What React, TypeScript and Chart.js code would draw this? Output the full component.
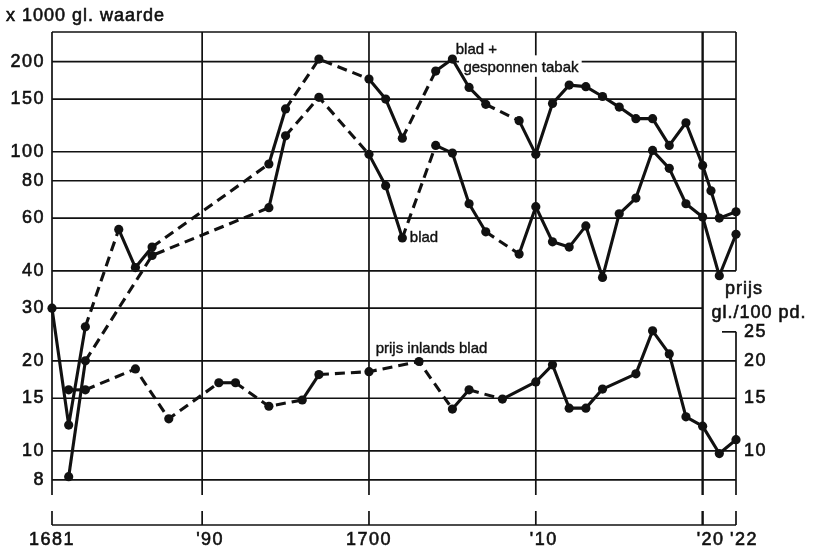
import React, { useEffect, useRef } from "react";
import { Chart, registerables } from "chart.js";

Chart.register(...registerables);

// ---- data ----
const topYears = [1681, 1682, 1683, 1685, 1686, 1687, 1694, 1695, 1697, 1700, 1701, 1702, 1704, 1705, 1706, 1707, 1709, 1710, 1711, 1712, 1713, 1714, 1715, 1716, 1717, 1718, 1719, 1720, 1720.5, 1721, 1722];
const topValues = [30, 12.2, 26, 55, 41, 48, 91, 139, 204, 175, 150, 111, 186, 204, 164, 144, 127, 98, 145, 167, 165, 153, 141, 129, 129, 105, 125, 90, 74, 60, 63];
const topDashedFrom = [1683, 1687, 1695, 1697, 1702, 1707];

const bladYears = [1682, 1683, 1687, 1694, 1695, 1697, 1700, 1701, 1702, 1704, 1705, 1706, 1707, 1709, 1710, 1711, 1712, 1713, 1714, 1715, 1716, 1717, 1718, 1719, 1720, 1721, 1722];
const bladValues = [8.2, 20, 45, 65, 113, 152, 98, 77, 51.5, 105, 99, 67, 54, 45.5, 65.5, 50, 48, 56.5, 38, 62, 70, 101, 88, 67, 60.5, 38.5, 53];
const bladDashedFrom = [1683, 1687, 1695, 1697, 1702, 1707];

const priceYears = [1682, 1683, 1686, 1688, 1691, 1692, 1694, 1696, 1697, 1700, 1703, 1705, 1706, 1708, 1710, 1711, 1712, 1713, 1714, 1716, 1717, 1718, 1719, 1720, 1721, 1722];
const priceValues = [16, 16, 18.8, 12.8, 16.9, 16.9, 14.1, 14.8, 18, 18.4, 19.9, 13.8, 16, 14.9, 17, 19.4, 13.9, 13.9, 16.1, 18.1, 25.2, 21.1, 13, 12.1, 9.8, 10.9];
const priceDashedFrom = [1683, 1686, 1688, 1692, 1694, 1697, 1700, 1703, 1706];

const leftTicks = [8, 10, 15, 20, 30, 40, 60, 80, 100, 150, 200];
const rightTicks = [10, 15, 20, 25];
const xTickYears = [1681, 1690, 1700, 1710, 1720, 1722];
const xTickLabels = ["1681", "'90", "1700", "'10", "'20", "'22"];

const titleLeft = "x 1000 gl. waarde";
const titleRight1 = "prijs";
const titleRight2 = "gl./100 pd.";
const labelTop1 = "blad +";
const labelTop2 = "gesponnen tabak";
const labelBlad = "blad";
const labelPrice = "prijs inlands blad";

// ---- styling ----
const INK = "#111";
const FONT = '"Liberation Sans", Arial, Helvetica, sans-serif';
const X_MIN = 1681;
const X_MAX = 1722;
const Y_MIN = 7.123;
const Y_MAX = 251.3;

function toPoints(xs: number[], ys: number[]) {
  return xs.map((x, i) => ({ x, y: ys[i] }));
}

function makeDataset(label: string, xs: number[], ys: number[], dashedFrom: number[]) {
  const dashed = new Set(dashedFrom);
  return {
    label,
    data: toPoints(xs, ys),
    borderColor: INK,
    backgroundColor: INK,
    borderWidth: 3.1,
    pointRadius: 4.6,
    pointBorderWidth: 0,
    pointBackgroundColor: INK,
    tension: 0,
    clip: false as const,
    borderJoinStyle: "round" as const,
    segment: {
      borderDash: (ctx: any) => (dashed.has(xs[ctx.p0DataIndex]) ? [10, 6] : undefined),
    },
  };
}

const framePlugin = {
  id: "framePlugin",
  beforeDatasetsDraw(chart: any) {
    const { ctx, chartArea: a, scales } = chart;
    const xs = scales.x;
    const ys = scales.y;
    const X = (v: number) => xs.getPixelForValue(v);
    const Y = (v: number) => ys.getPixelForValue(v);
    const seg = (x1: number, y1: number, x2: number, y2: number, w = 1.7) => {
      ctx.lineWidth = w;
      ctx.beginPath();
      ctx.moveTo(x1, y1);
      ctx.lineTo(x2, y2);
      ctx.stroke();
    };
    const txt = (s: string, x: number, y: number) => {
      ctx.fillText(s, x, y);
      ctx.strokeText(s, x, y);
    };
    ctx.save();
    ctx.strokeStyle = INK;
    ctx.fillStyle = INK;
    ctx.lineCap = "butt";

    // top border
    seg(a.left, a.top, a.right, a.top);
    // horizontal grid lines
    for (const v of leftTicks) {
      const xEnd = v === 30 ? X(1720) : a.right;
      seg(a.left, Y(v), xEnd, Y(v));
    }
    // vertical grid lines
    for (const yr of xTickYears) {
      const px = X(yr);
      if (yr === X_MAX) {
        seg(px, a.top, px, Y(40));
        seg(px, Y(25), px, a.bottom);
      } else {
        seg(px, a.top, px, a.bottom, yr === 1720 ? 2.4 : 1.7);
      }
    }
    // right axis top tick (25)
    seg(a.right - 14, Y(25), a.right, Y(25));

    // bottom bracket axis
    const by = a.bottom + 30;
    seg(X(X_MIN), by, X(X_MAX), by);
    for (const yr of xTickYears) {
      seg(X(yr), by - 14, X(yr), by, yr === 1720 ? 2.4 : 1.7);
    }

    // text
    ctx.lineWidth = 0.6;
    ctx.textBaseline = "middle";
    (ctx as any).letterSpacing = "1.5px";
    ctx.font = `18px ${FONT}`;
    // x labels
    xTickYears.forEach((yr, i) => {
      const lab = xTickLabels[i];
      if (lab.startsWith("'")) {
        ctx.textAlign = "left";
        txt(lab, X(yr) - 6, by + 15);
      } else {
        ctx.textAlign = "center";
        txt(lab, X(yr), by + 15);
      }
    });
    // left y labels
    ctx.textAlign = "right";
    for (const v of leftTicks) txt(String(v), a.left - 7, Y(v));
    // right y labels
    ctx.textAlign = "left";
    for (const v of rightTicks) txt(String(v), a.right + 8, Y(v));

    // titles
    (ctx as any).letterSpacing = "1px";
    ctx.textAlign = "left";
    txt(titleLeft, 6, 16);
    ctx.textAlign = "center";
    txt(titleRight1, a.right + 8, Y(34.8));
    txt(titleRight2, a.right + 23, Y(28.9));

    // series labels (with white backing)
    (ctx as any).letterSpacing = "0px";
    ctx.font = `15px ${FONT}`;
    ctx.lineWidth = 0.4;
    ctx.fillStyle = "#fff";
    ctx.fillRect(X(1704.9), Y(232), X(1707.8) - X(1704.9), Y(205) - Y(232));
    ctx.fillRect(X(1705.4), Y(210), X(1712.75) - X(1705.4), Y(178) - Y(210));
    ctx.fillStyle = INK;
    ctx.textAlign = "left";
    txt(labelTop1, X(1705.2), Y(219));
    txt(labelTop2, X(1705.66), Y(191));
    txt(labelBlad, X(1702.45), Y(51.6));
    txt(labelPrice, X(1700.4), Y(22));

    ctx.restore();
  },
};

export default function App() {
  const ref = useRef<HTMLCanvasElement | null>(null);
  useEffect(() => {
    if (!ref.current) return;
    const chart = new Chart(ref.current, {
      type: "line",
      data: {
        datasets: [
          makeDataset("blad + gesponnen tabak", topYears, topValues, topDashedFrom),
          makeDataset("blad", bladYears, bladValues, bladDashedFrom),
          makeDataset("prijs inlands blad", priceYears, priceValues, priceDashedFrom),
        ],
      },
      options: {
        responsive: false,
        animation: false,
        devicePixelRatio: 1,
        layout: { padding: { left: 52, right: 78, top: 32, bottom: 57 } },
        plugins: { legend: { display: false }, tooltip: { enabled: false }, title: { display: false } },
        scales: {
          x: { type: "linear", min: X_MIN, max: X_MAX, display: false },
          y: { type: "logarithmic", min: Y_MIN, max: Y_MAX, display: false },
        },
      },
      plugins: [framePlugin],
    });
    return () => chart.destroy();
  }, []);
  return (
    <div style={{ position: "absolute", left: 0, top: 0, width: 814, height: 552, background: "#fff" }}>
      <canvas ref={ref} width={814} height={552} style={{ width: 814, height: 552 }} />
    </div>
  );
}
